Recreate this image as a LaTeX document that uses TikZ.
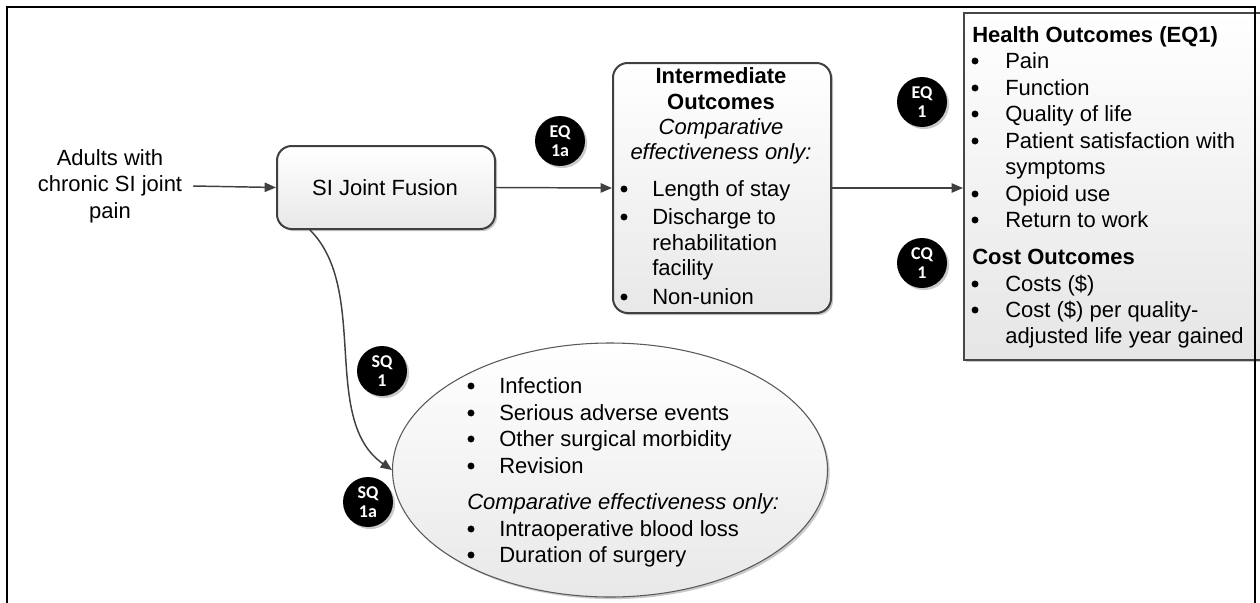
\documentclass[tikz,border=0pt]{standalone}
\usepackage{fontspec}
\setmainfont{Liberation Sans}
\newfontfamily\calib{Carlito}
\usetikzlibrary{shapes.geometric,shadows,arrows.meta}
\tikzset{
  base/.style={font=\fontsize{16.5}{19.9}\selectfont},
  txt/.style={base,inner sep=0pt,text height=12pt,text depth=0pt,anchor=west},
  ctxt/.style={base,inner sep=0pt,text height=12pt,text depth=0pt,anchor=center},
  bul/.style={circle,fill=black,minimum size=5.2pt,inner sep=0pt},
  shd/.style={drop shadow={shadow xshift=1.6pt,shadow yshift=-1.6pt,fill=black!35,opacity=0.6}},
  rbox/.style={shd,draw=black!75,line width=1.5pt,rounded corners=11pt,top color=white,bottom color=black!9,rectangle,anchor=north west,inner sep=0pt},
  hbox/.style={shd,draw=black!72,line width=1.5pt,top color=white,bottom color=black!10,rectangle,anchor=north west,inner sep=0pt},
  qc/.style={shd,circle,fill=black,text=white,minimum size=37.5pt,inner sep=0pt,align=center,font=\calib\bfseries\fontsize{13.5}{14}\selectfont},
  arr/.style={draw=black!75,line width=1.1pt,-{Triangle[length=8.5pt,width=7pt]}},
}
\newcommand{\blt}[5]{%
  \node[bul] (#1b) at (#2,#4+1) {};
  \node[txt] (#1) at (#3,#4) {#5};}
\begin{document}
\begin{tikzpicture}[x=0.75pt,y=-0.75pt]
\useasboundingbox (0,0) rectangle (1260,603);

% boxes
\node[rbox,minimum width=163.5pt,minimum height=62.25pt] (si) at (276,145) {};
\node[ctxt] (sit) at (385,187) {SI Joint Fusion};

\node[rbox,minimum width=163.5pt,minimum height=187.5pt] (int) at (612,62) {};
\node[hbox,minimum width=230pt,minimum height=260.25pt] (health) at (963,12) {};
\node[shd,ellipse,draw=black!65,line width=0.8pt,top color=white,bottom color=black!9,minimum width=326.25pt,minimum height=190.5pt,inner sep=0pt] (ell) at (610,470) {};

% population
\node[base,align=center,inner sep=0pt] (adults) at (110,186) {Adults with\\chronic SI joint\\pain};

% connectors
\draw[arr] ([xshift=8pt]adults.east) -- (si.west);
\draw[arr] (si.east) -- (int.west);
\draw[arr] (int.east) -- (int.east -| health.west);
\draw[arr] ([xshift=25.5pt]si.south west) .. controls (370,290) and (320,420) .. (ell.west);

% intermediate outcomes text
\node[ctxt] (i1) at (721,75) {\bfseries Intermediate};
\node[ctxt] (i2) at (721,101) {\bfseries Outcomes};
\node[ctxt] (i3) at (721,126) {\itshape Comparative};
\node[ctxt] (i4) at (721,151) {\itshape effectiveness only:};
\blt{ia}{624}{652}{188}{Length of stay}
\blt{ib}{624}{652}{216}{Discharge to}
\node[txt] (ib2) at (652,242) {rehabilitation};
\node[txt] (ib3) at (652,267) {facility};
\blt{ic}{624}{652}{296}{Non-union}

% health outcomes text
\node[txt] (h0) at (972,34) {\bfseries Health Outcomes (EQ1)};
\blt{ha}{975}{1005}{60}{Pain}
\blt{hb}{975}{1005}{87}{Function}
\blt{hc}{975}{1005}{113}{Quality of life}
\blt{hd}{975}{1005}{140}{Patient satisfaction with}
\node[txt] (hd2) at (1005,166) {symptoms};
\blt{he}{975}{1005}{193}{Opioid use}
\blt{hf}{975}{1005}{219}{Return to work}
\node[txt] (c0) at (972,256) {\bfseries Cost Outcomes};
\blt{ca}{975}{1005}{283}{Costs (\$)}
\blt{cb}{975}{1005}{309}{Cost (\$) per quality-}
\node[txt] (cb2) at (1005,335) {adjusted life year gained};

% ellipse text
\blt{ea}{471}{499}{385}{Infection}
\blt{eb}{471}{499}{412}{Serious adverse events}
\blt{ec}{471}{499}{438}{Other surgical morbidity}
\blt{ed}{471}{499}{465}{Revision}
\node[txt] (ee) at (467,501) {\itshape Comparative effectiveness only:};
\blt{ef}{471}{499}{528}{Intraoperative blood loss}
\blt{eg}{471}{499}{554}{Duration of surgery}

% question circles
\node[qc] (eq1a) at (560,141) {EQ\\1a};
\node[qc] (eq1) at (922,102) {EQ\\1};
\node[qc] (cq1) at (922,263) {CQ\\1};
\node[qc] (sq1) at (382,371) {SQ\\1};
\node[qc] (sq1a) at (368,502) {SQ\\1a};

% outer frame
\draw[line width=2.2pt,black] (7,604) -- (7,7) -- (1255,7) -- (1255,604);
\end{tikzpicture}
\end{document}
